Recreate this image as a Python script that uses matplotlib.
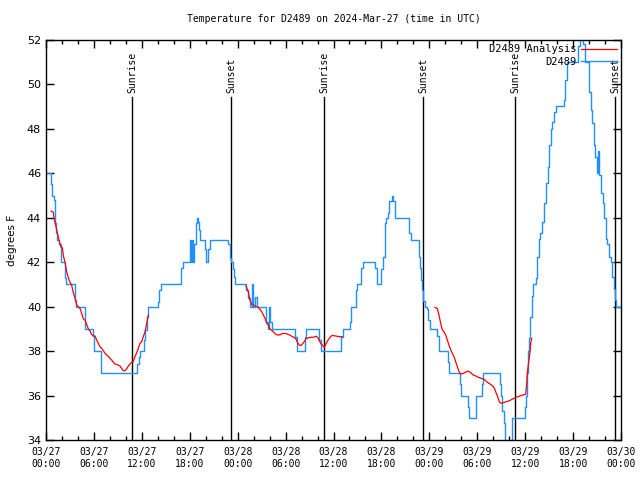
##  Temperature plot for D2489, 2024-Mar-27 .. 03/30 (time in UTC)

import numpy as np
import matplotlib
matplotlib.use('Agg')
import matplotlib.pyplot as plt

# hours after 03/27 00:00 UTC, observed value (step series)
obs_hours = [0, 0.58, 0.7, 0.95, 1.1, 1.25, 1.4, 1.65, 1.84, 2.38, 2.5, 3.59, 3.75,
             4.93, 5.84, 5.95, 6.9, 11.44, 11.6, 11.75, 12.3, 12.45, 12.65, 12.8,
             14.07, 14.2, 14.35, 16.9, 17.1, 18.03, 18.17, 18.3, 18.45, 18.55, 18.75,
             18.9, 19.0, 19.1, 19.3, 19.9, 20.0, 20.3, 20.55, 22.8, 23.0, 23.15, 23.4,
             23.55, 23.7, 25.1, 25.3, 25.5, 25.85, 25.95, 26.2, 26.4, 27.6, 27.8, 27.9,
             28.1, 28.3, 31.2, 31.4, 32.4, 32.6, 34.2, 34.4, 37.0, 37.2, 38.05, 38.2,
             38.8, 38.98, 39.5, 39.7, 41.2, 41.45, 41.9, 42.15, 42.4, 42.6, 42.8, 43.0,
             43.3, 43.5, 43.7, 45.5, 45.7, 46.7, 46.85, 47.0, 47.1, 47.25, 47.45, 47.65,
             47.85, 48.1, 48.9, 49.2, 50.4, 50.5, 51.8, 52.0, 52.9, 53.0, 53.8, 53.9,
             54.6, 54.75, 56.8, 56.95, 57.1, 57.3, 57.5, 58.4, 60.0, 60.1, 60.2, 60.3,
             60.45, 60.6, 60.8, 60.95, 61.3, 61.5, 61.7, 61.9, 62.1, 62.4, 62.6, 62.8,
             63.0, 63.2, 63.4, 63.6, 63.8, 64.8, 65.0, 65.2, 66.6, 66.9, 67.2, 67.5,
             68.0, 68.2, 68.4, 68.6, 68.8, 68.95, 69.1, 69.3, 69.45, 69.7, 69.9, 70.1,
             70.3, 70.5, 70.7, 70.9, 71.1, 71.25, 71.4, 72.0]
obs_temp = [46.0, 45.5, 45.0, 44.8, 43.75, 43.3, 43.0, 42.8, 42.0, 41.3, 41.0, 40.3, 40.0,
            39.0, 38.7, 38.0, 37.0, 37.4, 37.75, 38.0, 38.5, 38.95, 39.55, 40.0,
            40.2, 40.75, 41.0, 41.73, 42.0, 43.0, 42.0, 43.0, 42.0, 42.8, 43.75,
            44.0, 43.8, 43.45, 43.0, 42.6, 42.0, 42.6, 43.0, 42.8, 42.2, 42.0, 41.7,
            41.35, 41.0, 40.75, 40.37, 40.0, 41.0, 40.0, 40.45, 40.0, 39.3, 39.0, 40.0,
            39.3, 39.0, 38.65, 38.0, 38.65, 39.0, 38.5, 38.0, 38.65, 39.0, 39.3, 40.0,
            40.75, 41.0, 41.73, 42.0, 41.73, 41.0, 41.7, 42.25, 43.75, 44.0, 44.23, 44.77,
            45.0, 44.77, 44.0, 43.3, 43.0, 42.25, 41.73, 41.2, 40.75, 40.27, 40.0, 39.9,
            39.4, 39.0, 38.7, 38.0, 37.5, 37.0, 36.5, 36.0, 35.5, 35.0, 35.5, 36.0,
            36.5, 37.0, 36.5, 36.0, 35.3, 34.75, 33.6, 35.0, 35.5, 36.0, 37.0, 38.0,
            38.57, 39.55, 40.5, 41.0, 41.27, 42.25, 43.03, 43.3, 43.82, 44.65, 45.55, 46.3,
            47.27, 48.0, 48.32, 48.77, 49.03, 49.3, 50.2, 51.03, 51.73, 52.3, 51.8, 51.0,
            49.67, 48.85, 48.25, 47.27, 46.75, 46.0, 47.0, 45.93, 45.1, 44.65, 43.97, 43.03,
            42.8, 42.25, 42.0, 41.35, 40.78, 40.3, 40.0, 40.0]

# analysis, three pieces
ana1_hours = [0.63, 0.92, 1.04, 1.25, 1.46, 1.63, 1.84, 2.05, 2.17, 2.38, 2.59, 2.80, 3.01,
              3.21, 3.42, 3.63, 3.84, 4.05, 4.26, 4.47, 4.67, 4.88, 5.09, 5.30, 5.51, 5.72,
              5.93, 6.14, 6.34, 6.55, 6.76, 6.97, 7.18, 7.39, 7.60, 7.80, 8.01, 8.22, 8.43,
              8.64, 8.85, 9.27, 9.47, 9.68, 9.89, 10.10, 10.31, 10.52, 10.73, 10.93, 11.14,
              11.35, 11.56, 11.77, 11.98, 12.18, 12.40, 12.61, 12.81]
ana1_temp = [44.3, 44.25, 43.9, 43.6, 43.25, 43.0, 42.7, 42.65, 42.3, 42.0, 41.57, 41.3, 41.1,
             40.97, 40.63, 40.38, 40.08, 40.0, 39.92, 39.7, 39.45, 39.4, 39.2, 39.0, 38.9, 38.75,
             38.68, 38.68, 38.5, 38.35, 38.2, 38.12, 38.02, 37.9, 37.82, 37.77, 37.67, 37.6, 37.5,
             37.42, 37.4, 37.33, 37.22, 37.12, 37.12, 37.2, 37.33, 37.42, 37.5, 37.53, 37.75,
             37.92, 38.12, 38.35, 38.42, 38.65, 38.87, 39.25, 39.62]
ana2_hours = [25.04, 25.33, 25.54, 25.76, 25.96, 26.38, 26.58, 26.80, 27.01, 27.21, 27.42,
              27.64, 27.84, 28.05, 28.38, 28.68, 28.96, 29.30, 29.51, 29.80, 30.14, 30.47,
              30.77, 31.05, 31.30, 31.47, 31.72, 31.93, 32.14, 32.35, 32.56, 32.85, 33.14,
              33.47, 33.81, 34.02, 34.22, 34.43, 34.65, 34.85, 35.06, 35.27, 35.48, 35.77,
              35.98, 36.40, 36.81, 37.10]
ana2_temp = [40.93, 40.67, 40.3, 40.1, 40.07, 40.0, 39.97, 39.87, 39.78, 39.63, 39.48,
             39.25, 39.17, 39.0, 38.9, 38.78, 38.73, 38.73, 38.78, 38.8, 38.78, 38.73,
             38.67, 38.62, 38.55, 38.4, 38.27, 38.25, 38.33, 38.43, 38.55, 38.6, 38.62,
             38.62, 38.67, 38.62, 38.47, 38.33, 38.25, 38.17, 38.33, 38.47, 38.58, 38.7,
             38.7, 38.67, 38.65, 38.65]
ana3_hours = [48.71, 49.0, 49.21, 49.42, 49.63, 49.84, 50.05, 50.25, 50.46, 50.67, 50.88,
              51.09, 51.30, 51.51, 51.72, 51.93, 52.26, 52.55, 52.88, 53.18, 53.51, 53.84,
              54.13, 54.56, 54.97, 55.26, 55.60, 55.93, 56.14, 56.35, 56.56, 56.76, 56.97,
              57.27, 57.60, 57.89, 58.19, 58.52, 58.85, 59.14, 59.44, 59.77, 60.07, 60.19,
              60.27, 60.61, 60.69, 60.82]
ana3_temp = [39.97, 39.92, 39.62, 39.25, 38.95, 38.87, 38.72, 38.5, 38.27, 38.07, 37.9,
             37.75, 37.52, 37.3, 37.07, 36.97, 37.0, 37.06, 37.1, 37.03, 36.92, 36.88,
             36.82, 36.77, 36.7, 36.6, 36.52, 36.43, 36.33, 36.13, 35.95, 35.72, 35.65,
             35.68, 35.72, 35.75, 35.8, 35.86, 35.92, 35.95, 36.0, 36.03, 36.06, 36.55,
             37.03, 37.97, 38.35, 38.57]

sun_hours = [10.77, 23.17, 34.81, 47.21, 58.73, 71.25]
sun_names = ['Sunrise', 'Sunset', 'Sunrise', 'Sunset', 'Sunrise', 'Sunset']

tick_hours = [0, 6, 12, 18, 24, 30, 36, 42, 48, 54, 60, 66, 72]
tick_labels = ['03/27\n00:00', '03/27\n06:00', '03/27\n12:00', '03/27\n18:00',
               '03/28\n00:00', '03/28\n06:00', '03/28\n12:00', '03/28\n18:00',
               '03/29\n00:00', '03/29\n06:00', '03/29\n12:00', '03/29\n18:00',
               '03/30\n00:00']

mono = 'DejaVu Sans Mono'
blue = '#1e90ff'


def plot():
    fig = plt.figure(figsize=(6.4, 4.8), dpi=100)
    ax = fig.add_axes([46 / 640, 40 / 480, 575 / 640, 400 / 480])

    for h, name in zip(sun_hours, sun_names):
        ax.plot([h, h], [34, 49.42], color='black', linewidth=1.0, zorder=1)
        ax.text(h + 0.1, 49.62, name, rotation=90, ha='center', va='bottom',
                family=mono, fontsize=7)

    ax.plot(ana1_hours, ana1_temp, color='red', linewidth=0.9, label='D2489 Analysis', zorder=3)
    ax.plot(ana2_hours, ana2_temp, color='red', linewidth=0.9, zorder=3)
    ax.plot(ana3_hours, ana3_temp, color='red', linewidth=0.9, zorder=3)
    ax.plot(obs_hours, obs_temp, color=blue, linewidth=1.0, drawstyle='steps-post',
            label='D2489', zorder=2)

    ax.set_xlim(0, 72)
    ax.set_ylim(34, 52)
    ax.set_xticks(tick_hours)
    ax.set_xticklabels(tick_labels, family=mono, fontsize=7)
    ax.set_xticks(np.arange(0, 73, 2), minor=True)
    ax.set_yticks(np.arange(34, 53, 2))
    ax.tick_params(axis='both', which='both', direction='in', top=True, right=True)
    ax.tick_params(axis='both', which='major', length=6, width=1)
    ax.tick_params(axis='x', which='minor', length=3, width=1)
    ax.tick_params(axis='y', labelsize=8)
    ax.tick_params(axis='x', pad=5)
    for s in ax.spines.values():
        s.set_linewidth(1)

    ax.set_ylabel('degrees F', fontsize=7.5, labelpad=7)
    ax.set_title('Temperature for D2489 on 2024-Mar-27 (time in UTC)',
                 family=mono, fontsize=7, pad=13)

    leg = ax.legend(loc='upper right', frameon=False, markerfirst=False,
                    prop={'family': mono, 'size': 7.5}, handlelength=3.4,
                    borderaxespad=0.1, borderpad=0.3, labelspacing=0.25,
                    handletextpad=0.5)
    leg.set_zorder(5)

    plt.savefig('out.png', dpi=100)


if __name__ == '__main__':
    plot()
